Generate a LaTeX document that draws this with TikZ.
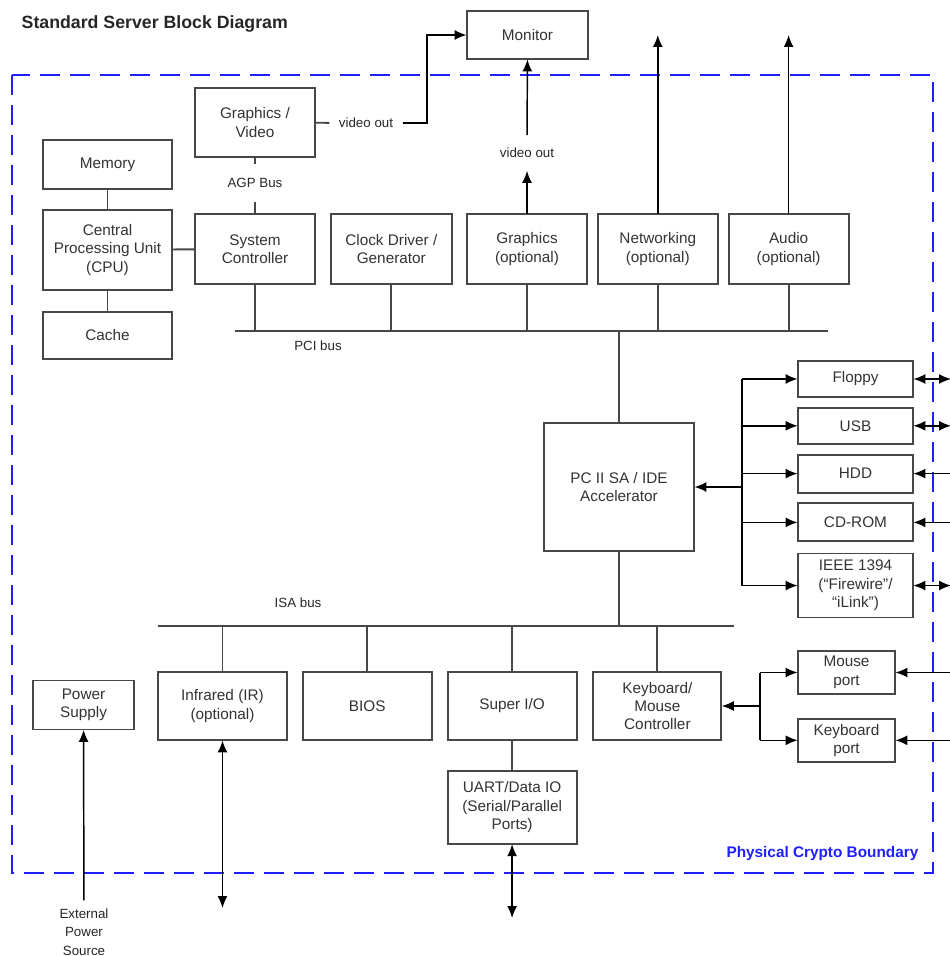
\documentclass[tikz,border=0pt]{standalone}
\usepackage{fontspec}
\setmainfont{Liberation Sans}
\usetikzlibrary{arrows.meta, positioning}
\definecolor{boundblue}{rgb}{0.12, 0.12, 1.0}
\definecolor{linegray}{gray}{0.28}

\begin{document}
\begin{tikzpicture}[
        x=0.75pt, y=-0.75pt,
        blk/.style={rectangle, draw=linegray, line width=1.4pt, outer sep=0.3pt, align=center, inner sep=1pt, text=black!80, font=\fontsize{11.5}{13.8}\selectfont},
        sz/.style 2 args={minimum width=#1*0.75pt, minimum height=#2*0.75pt},
        lbl/.style={align=center, inner sep=4pt, text=black!85, font=\fontsize{10}{13.8}\selectfont},
        wire/.style={draw=linegray, line width=1.4pt},
        trunk/.style={draw, line width=1.1pt},
        arrow/.style={-{Latex[length=9pt, width=7.5pt]}, line width=1.1pt},
        both/.style={{Latex[length=9pt, width=7.5pt]}-{Latex[length=9pt, width=7.5pt]}, line width=1.1pt},
        boundary/.style={draw=boundblue, line width=2.2pt, dash pattern=on 15pt off 7.5pt},
        node distance=7.5pt and 11.25pt
        ]
        \useasboundingbox (0,0) rectangle (949,956);

        % Title and boundary
        \node (title) [anchor=west, text=black!85, font=\bfseries\fontsize{13.3}{16}\selectfont] at (17,24) {Standard Server Block Diagram};
        \draw [boundary] (12,75) rectangle (933,873);
        \node (bndlabel) [anchor=east, text=boundblue, font=\bfseries\fontsize{11.5}{14}\selectfont] at (923,854) {Physical Crypto Boundary};

        % Nodes
        \node (monitor) [blk, sz={121}{48}] at (527.5,35) {Monitor};
        \node (gfxvid) [blk, sz={120}{69}] at (255,122.5) {Graphics /\\Video};
        \node (memory) [blk, sz={129}{49}] at (107.5,164.5) {Memory};
        \node (cpu) [blk, sz={129}{80}, below=15pt of memory] {Central\\Processing Unit\\(CPU)};
        \node (cache) [blk, sz={129}{47}, below=15.75pt of cpu] {Cache};
        \node (sysctrl) [blk, sz={120}{70}] at (255,249) {System\\Controller};
        \node (clock) [blk, sz={121}{70}, right=of sysctrl] {Clock Driver /\\Generator};
        \node (graphics) [blk, sz={120}{70}] at (527,249) {Graphics\\(optional)};
        \node (network) [blk, sz={120}{70}, right=7.5pt of graphics] {Networking\\(optional)};
        \node (audio) [blk, sz={120}{70}, right=7.5pt of network] {Audio\\(optional)};
        \node (accel) [blk, sz={150}{128}] at (619,487) {PC II SA / IDE\\Accelerator};

        \node (floppy) [blk, sz={115}{36}] at (855.5,379) {Floppy};
        \node (usb) [blk, sz={115}{36}, below=of floppy] {USB};
        \node (hdd) [blk, sz={115}{38}, below=of usb] {HDD};
        \node (cdrom) [blk, sz={115}{38}, below=of hdd] {CD-ROM};
        \node (ieee) [blk, sz={115}{64}, below=8.5pt of cdrom] {IEEE 1394\\(“Firewire”/\\“iLink”)};

        \node (power) [blk, sz={101}{49}] at (83.5,705) {Power\\Supply};
        \node (infrared) [blk, sz={129}{68}] at (222.5,706) {Infrared (IR)\\(optional)};
        \node (bios) [blk, sz={129}{68}, right=of infrared] {BIOS};
        \node (superio) [blk, sz={129}{68}, right=of bios] {Super I/O};
        \node (kbctrl) [blk, sz={128}{68}, right=12pt of superio] {Keyboard/\\Mouse\\Controller};
        \node (uart) [blk, sz={129}{73}, below=22.5pt of superio] {UART/Data IO\\(Serial/Parallel\\Ports)};
        \node (mouseport) [blk, sz={97}{43}] at (846.5,672.5) {Mouse\\port};
        \node (kbport) [blk, sz={97}{43}, below=18pt of mouseport] {Keyboard\\port};

        % Labels
        \node (vidout1) [lbl, inner xsep=7pt] at (366,123) {video out};
        \node (vidout2) [lbl, inner ysep=9.5pt] at (527,153) {video out};
        \node (agp) [lbl, inner ysep=10.5pt] at (255,183) {AGP Bus};
        \node (pcilabel) [lbl] at (318,346) {PCI bus};
        \node (isalabel) [lbl] at (298,603) {ISA bus};
        \node (extpower) [lbl, inner ysep=6pt] at (84,932) {External\\Power\\Source};

        % Bus ends and free ends
        \coordinate (pciW) at (235,331);
        \coordinate (pciE) at (828,331);
        \coordinate (isaW) at (158,626);
        \coordinate (isaE) at (734,626);
        \coordinate (vidbend) at (427,123);
        \coordinate (top) at (0,35);
        \coordinate (drvtrunk) at (742,487);
        \coordinate (kbtrunk) at (760,706);
        \coordinate (rightedge) at (951,0);
        \coordinate (irout) at (223,908);
        \coordinate (uartout) at (511,918);

        % Buses and plain links
        \draw [wire] (pciW) -- (pciE);
        \draw [wire] (isaW) -- (isaE);
        \draw [wire] (memory) -- (cpu);
        \draw [wire] (cpu) -- (cache);
        \draw [wire] (cpu) -- (sysctrl);
        \draw [wire] (gfxvid) -- (agp);
        \draw [wire] (agp) -- (sysctrl);
        \draw [wire] (gfxvid) -- (vidout1);
        \foreach \n in {sysctrl, clock, graphics, network, audio}
            \draw [wire] (\n) -- (\n |- pciW);
        \draw [wire] (accel) -- (accel |- pciW);
        \draw [wire] (accel) -- (accel |- isaW);
        \foreach \n in {infrared, bios, superio, kbctrl}
            \draw [wire] (\n) -- (\n |- isaW);
        \draw [wire] (superio) -- (uart);

        % Arrows
        \draw [arrow] (vidout1) -- (vidbend) |- (monitor);
        \draw [arrow] (graphics) -- (vidout2);
        \draw [arrow] (vidout2) -- (monitor);
        \draw [arrow] (network.north) -- (network.north |- top);
        \draw [arrow] (audio.north) -- (audio.north |- top);

        \draw [arrow] (drvtrunk) -- (accel);
        \draw [trunk] (drvtrunk |- floppy) -- (drvtrunk |- ieee);
        \foreach \n in {floppy, usb, hdd, cdrom, ieee}
            \draw [arrow] (drvtrunk |- \n) -- (\n);
        \foreach \n in {floppy, usb, ieee}
            \draw [both] (\n) -- (\n -| rightedge);
        \foreach \n in {hdd, cdrom}
            \draw [arrow] (\n -| rightedge) -- (\n);

        \draw [arrow] (kbtrunk) -- (kbctrl);
        \draw [trunk] (kbtrunk |- mouseport) -- (kbtrunk |- kbport);
        \foreach \n in {mouseport, kbport} {
            \draw [arrow] (kbtrunk |- \n) -- (\n);
            \draw [arrow] (\n -| rightedge) -- (\n);
        }

        \draw [both] (infrared) -- (infrared |- irout);
        \draw [both] (uart) -- (uart |- uartout);
        \draw [arrow] (extpower) -- (power);

    \end{tikzpicture}
\end{document}
